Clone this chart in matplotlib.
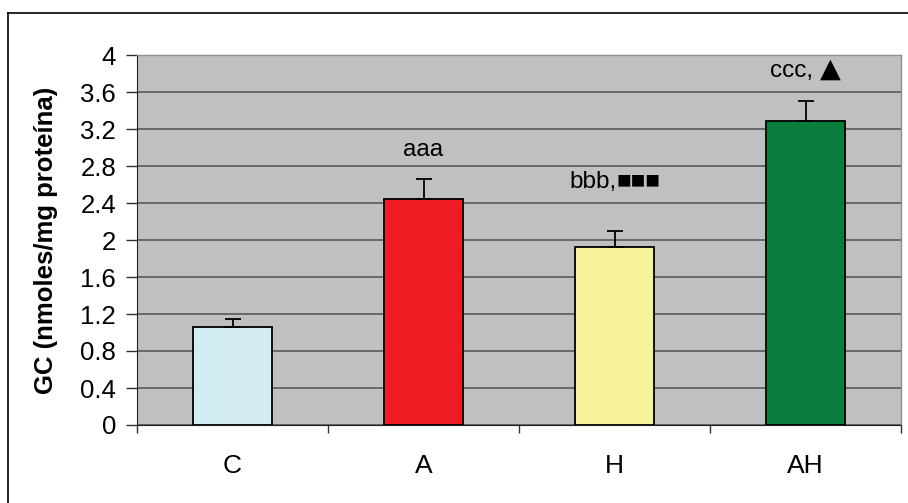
import matplotlib
matplotlib.use("Agg")
import matplotlib.pyplot as plt
from matplotlib.lines import Line2D
from matplotlib.offsetbox import TextArea, HPacker, AnnotationBbox

plt.rcParams['font.family'] = ['Liberation Sans', 'DejaVu Sans']

groups = ["C", "A", "H", "AH"]
means = [1.06, 2.44, 1.92, 3.29]
sem = [0.09, 0.22, 0.18, 0.21]
bar_colors = ["#D2ECF2", "#EE1D24", "#F6F39A", "#0A7E3C"]
# significance marks: letters plus an optional symbol per group
sig_letters = ["", "aaa", "bbb,", "ccc, "]
sig_symbols = ["", "", "\u25a0\u25a0\u25a0", "\u25b2"]
sig_symbol_font = [None, None, "Liberation Sans", "DejaVu Sans"]
sig_symbol_size = [0, 0, 17.5, 19.5]
sig_pos = [0.0, 2.97, 2.63, 3.84]
yticks = [0, 0.4, 0.8, 1.2, 1.6, 2, 2.4, 2.8, 3.2, 3.6, 4]
ytick_labels = ["0", "0.4", "0.8", "1.2", "1.6", "2", "2.4", "2.8", "3.2", "3.6", "4"]

W, H = 908, 503
fig = plt.figure(figsize=(W / 100, H / 100), dpi=100)
fig.patch.set_facecolor("white")

# outer chart frame (left and top edges visible)
fig.add_artist(Line2D([8 / W, 8 / W], [0, 1 - 13 / H], transform=fig.transFigure, color="black", lw=1.2))
fig.add_artist(Line2D([8 / W, 1], [1 - 13 / H, 1 - 13 / H], transform=fig.transFigure, color="black", lw=1.2))

left, right, top, bottom = 137, 901, 55, 425
ax = fig.add_axes([left / W, 1 - bottom / H, (right - left) / W, (bottom - top) / H])
ax.set_facecolor("#C0C0C0")

x = list(range(len(groups)))
ax.bar(x, means, width=0.41, color=bar_colors, edgecolor="black", linewidth=1.3, zorder=3)
ax.errorbar(x, means, yerr=[[0] * len(sem), sem], fmt="none", ecolor="black",
            elinewidth=1.3, capsize=5.5, capthick=1.3, zorder=4)

for xi, let, sym, sfont, ssz, yp in zip(x, sig_letters, sig_symbols, sig_symbol_font,
                                         sig_symbol_size, sig_pos):
    if not let:
        continue
    parts = [TextArea(let, textprops=dict(fontsize=17.5, color="black"))]
    if sym:
        parts.append(TextArea(sym, textprops=dict(fontsize=ssz, color="black",
                                                  family=[sfont, "DejaVu Sans"])))
    box = HPacker(children=parts, align="baseline", pad=0, sep=0)
    ab = AnnotationBbox(box, (xi, yp), xycoords="data", frameon=False,
                        box_alignment=(0.5, 0.5), pad=0, zorder=5)
    ax.add_artist(ab)

ax.set_xlim(-0.5, len(groups) - 0.5)
ax.set_ylim(0, 4)
ax.set_yticks(yticks)
ax.set_yticklabels(ytick_labels)
ax.yaxis.grid(True, color="#505050", linewidth=1.1, zorder=1)
ax.set_axisbelow(True)

ax.set_xticks(x)
ax.set_xticklabels(groups, fontsize=19)
ax.tick_params(axis="x", length=0, pad=21)
ax.set_xticks([i + 0.5 for i in range(-1, len(groups))], minor=True)
ax.tick_params(axis="x", which="minor", length=6, width=1, color="#303030")
ax.tick_params(axis="y", length=8, width=1, labelsize=18.5, pad=7, color="#303030")

for side in ["top", "right"]:
    ax.spines[side].set_color("#909090")
    ax.spines[side].set_linewidth(1)
ax.spines["left"].set_color("#202020")
ax.spines["bottom"].set_color("#202020")

ax.set_ylabel("GC (nmoles/mg proteína)", fontsize=18.5, fontweight="bold", labelpad=16)

fig.savefig("out.png", dpi=100)
